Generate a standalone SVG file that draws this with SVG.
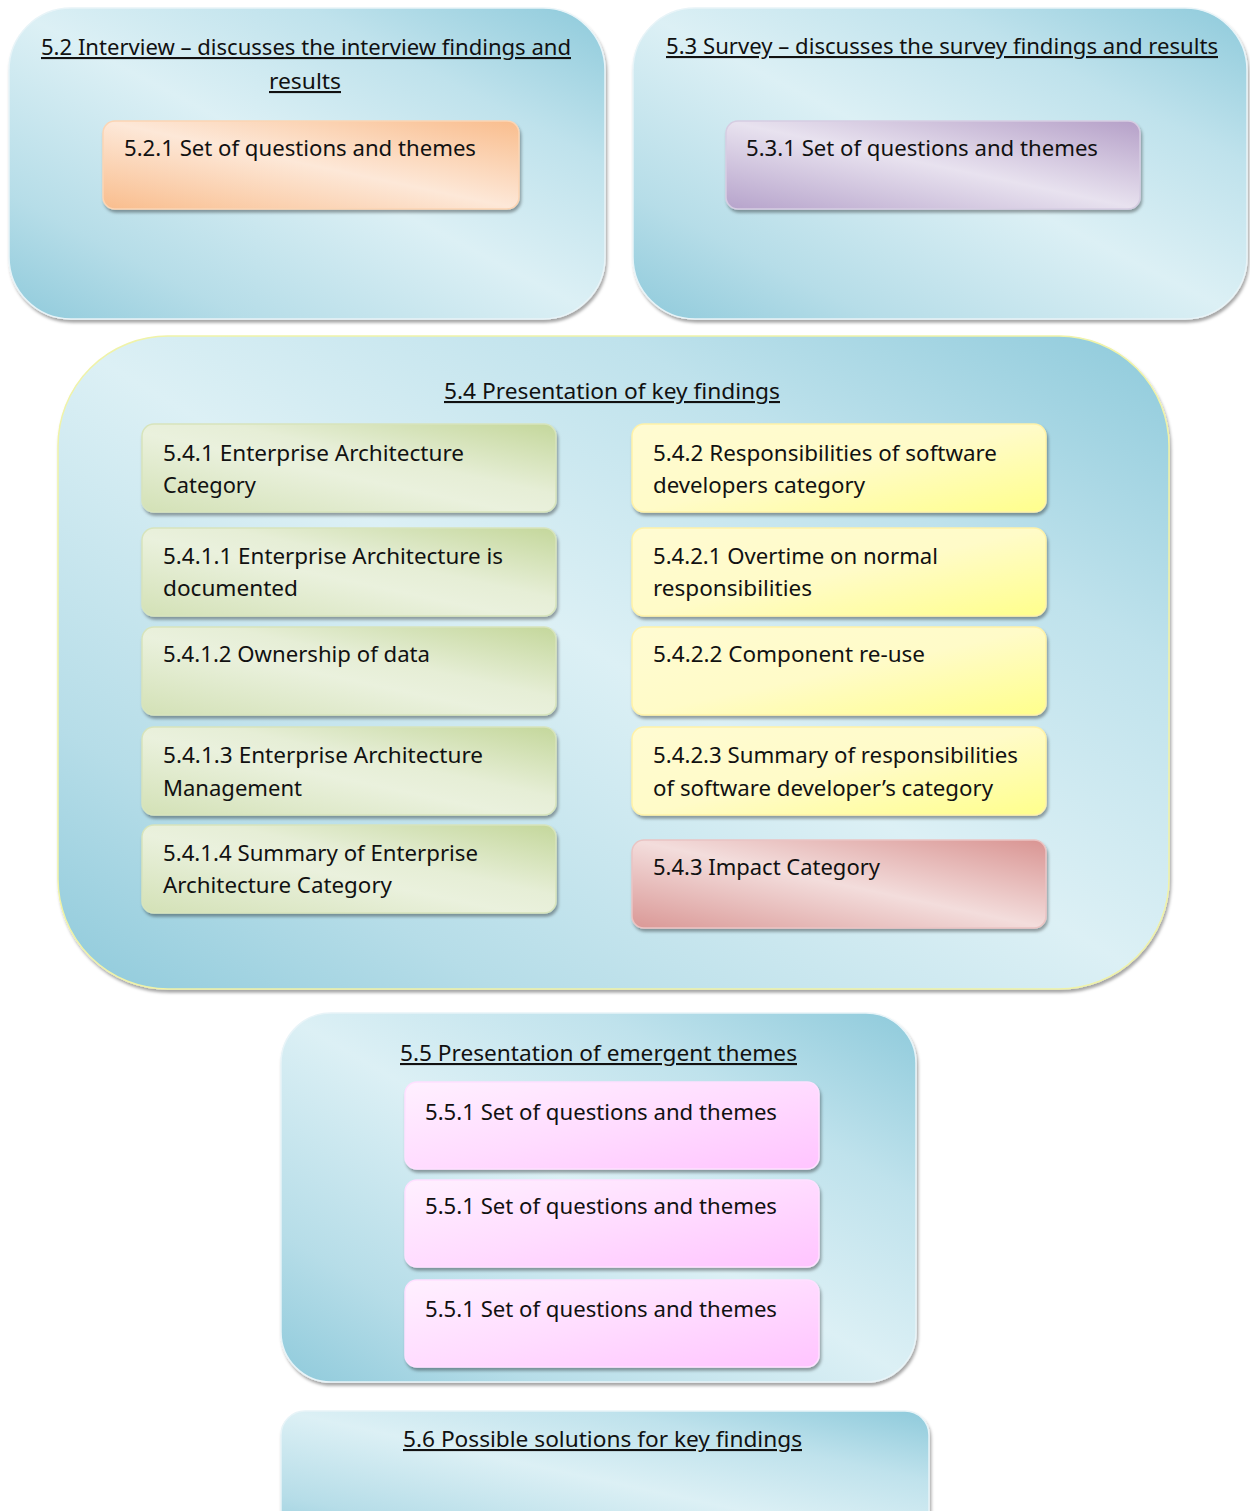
<svg xmlns="http://www.w3.org/2000/svg" width="1250" height="1511" viewBox="0 0 1250 1511">
  <defs>
    <linearGradient id="gBlue" x1="0" y1="1" x2="1" y2="0">
      <stop offset="0" stop-color="#8fcadb"/>
      <stop offset="0.2" stop-color="#b6dde8"/>
      <stop offset="0.5" stop-color="#dcf0f5"/>
      <stop offset="0.75" stop-color="#bfe2ec"/>
      <stop offset="1" stop-color="#8ecadb"/>
    </linearGradient>
    <linearGradient id="gOrange" x1="0" y1="1" x2="1" y2="0">
      <stop offset="0" stop-color="#f9bd8d"/>
      <stop offset="0.5" stop-color="#fde8d8"/>
      <stop offset="1" stop-color="#f9bd8d"/>
    </linearGradient>
    <linearGradient id="gPurple" x1="0" y1="1" x2="1" y2="0">
      <stop offset="0" stop-color="#b6a3cb"/>
      <stop offset="0.5" stop-color="#e8e2ef"/>
      <stop offset="1" stop-color="#b5a0c8"/>
    </linearGradient>
    <linearGradient id="gGreen" x1="0" y1="1" x2="1" y2="0">
      <stop offset="0" stop-color="#d3e1b6"/>
      <stop offset="0.45" stop-color="#eaf1dd"/>
      <stop offset="0.6" stop-color="#e6eed6"/>
      <stop offset="1" stop-color="#c4d79b"/>
    </linearGradient>
    <linearGradient id="gYellow" x1="0" y1="0" x2="1" y2="1">
      <stop offset="0" stop-color="#fffbd2"/>
      <stop offset="0.5" stop-color="#fffbc8"/>
      <stop offset="1" stop-color="#ffff8c"/>
    </linearGradient>
    <linearGradient id="gRed" x1="0" y1="1" x2="1" y2="0">
      <stop offset="0" stop-color="#da9896"/>
      <stop offset="0.5" stop-color="#f3dddc"/>
      <stop offset="1" stop-color="#d99492"/>
    </linearGradient>
    <linearGradient id="gPink" x1="0" y1="0" x2="1" y2="1">
      <stop offset="0" stop-color="#fff0ff"/>
      <stop offset="0.5" stop-color="#ffdcff"/>
      <stop offset="1" stop-color="#ffc4ff"/>
    </linearGradient>
    <filter id="shadow" x="-5%" y="-5%" width="110%" height="115%">
      <feDropShadow dx="1.5" dy="3" stdDeviation="1.5" flood-color="#000" flood-opacity="0.35"/>
    </filter>
  </defs>
  <style>
    text { font-family: "Noto Sans", "Liberation Sans", sans-serif; font-size: 21px; fill: #111; }
    .u { text-decoration: underline; }
    .panel { fill: url(#gBlue); stroke: #e8f4f8; stroke-width: 1.5; filter: url(#shadow); }
    .item { stroke-width: 1.5; filter: url(#shadow); }
    .orange { fill: url(#gOrange); stroke: #fcd5b4; }
    .purple { fill: url(#gPurple); stroke: #d6cde2; }
    .green { fill: url(#gGreen); stroke: #d7e4bc; }
    .yellow { fill: url(#gYellow); stroke: #fff2a8; }
    .red { fill: url(#gRed); stroke: #eac4c3; }
    .pink { fill: url(#gPink); stroke: #ffe0ff; }
  </style>

  <!-- 5.2 Interview -->
  <g id="sec52">
    <rect class="panel" x="9" y="8" width="596" height="311" rx="62"/>
    <text class="u" x="41" y="55" textLength="530" lengthAdjust="spacingAndGlyphs">5.2 Interview – discusses the interview findings and</text>
    <text class="u" x="269" y="89" textLength="72" lengthAdjust="spacingAndGlyphs">results</text>
  </g>
  <g id="sec521">
    <rect class="item orange" x="103" y="121" width="416" height="88" rx="12"/>
    <text x="124" y="156" textLength="352" lengthAdjust="spacingAndGlyphs">5.2.1 Set of questions and themes</text>
  </g>

  <!-- 5.3 Survey -->
  <g id="sec53">
    <rect class="panel" x="633" y="8" width="614" height="311" rx="62"/>
    <text class="u" x="666" y="54" textLength="552" lengthAdjust="spacingAndGlyphs">5.3 Survey – discusses the survey findings and results</text>
  </g>
  <g id="sec531">
    <rect class="item purple" x="726" y="121" width="414" height="88" rx="12"/>
    <text x="746" y="156" textLength="352" lengthAdjust="spacingAndGlyphs">5.3.1 Set of questions and themes</text>
  </g>

  <!-- 5.4 Key findings -->
  <g id="sec54">
    <rect class="panel" x="58" y="336" width="1111" height="653" rx="110" style="stroke:#f0f3a8"/>
    <text class="u" x="444" y="399" textLength="336" lengthAdjust="spacingAndGlyphs">5.4 Presentation of key findings</text>
  </g>

  <g id="sec541">
    <rect class="item green" x="142" y="424" width="414" height="88" rx="12"/>
    <text x="163" y="461" textLength="301" lengthAdjust="spacingAndGlyphs">5.4.1 Enterprise Architecture</text>
    <text x="163" y="493" textLength="93" lengthAdjust="spacingAndGlyphs">Category</text>
  </g>
  <g id="sec5411">
    <rect class="item green" x="142" y="528" width="414" height="88" rx="12"/>
    <text x="163" y="564" textLength="340" lengthAdjust="spacingAndGlyphs">5.4.1.1 Enterprise Architecture is</text>
    <text x="163" y="596" textLength="135" lengthAdjust="spacingAndGlyphs">documented</text>
  </g>
  <g id="sec5412">
    <rect class="item green" x="142" y="627" width="414" height="88" rx="12"/>
    <text x="163" y="662" textLength="267" lengthAdjust="spacingAndGlyphs">5.4.1.2 Ownership of data</text>
  </g>
  <g id="sec5413">
    <rect class="item green" x="142" y="727" width="414" height="88" rx="12"/>
    <text x="163" y="763" textLength="320" lengthAdjust="spacingAndGlyphs">5.4.1.3 Enterprise Architecture</text>
    <text x="163" y="796" textLength="139" lengthAdjust="spacingAndGlyphs">Management</text>
  </g>
  <g id="sec5414">
    <rect class="item green" x="142" y="825" width="414" height="88" rx="12"/>
    <text x="163" y="861" textLength="315" lengthAdjust="spacingAndGlyphs">5.4.1.4 Summary of Enterprise</text>
    <text x="163" y="893" textLength="229" lengthAdjust="spacingAndGlyphs">Architecture Category</text>
  </g>

  <g id="sec542">
    <rect class="item yellow" x="632" y="424" width="414" height="88" rx="12"/>
    <text x="653" y="461" textLength="344" lengthAdjust="spacingAndGlyphs">5.4.2 Responsibilities of software</text>
    <text x="653" y="493" textLength="212" lengthAdjust="spacingAndGlyphs">developers category</text>
  </g>
  <g id="sec5421">
    <rect class="item yellow" x="632" y="528" width="414" height="88" rx="12"/>
    <text x="653" y="564" textLength="285" lengthAdjust="spacingAndGlyphs">5.4.2.1 Overtime on normal</text>
    <text x="653" y="596" textLength="159" lengthAdjust="spacingAndGlyphs">responsibilities</text>
  </g>
  <g id="sec5422">
    <rect class="item yellow" x="632" y="627" width="414" height="88" rx="12"/>
    <text x="653" y="662" textLength="272" lengthAdjust="spacingAndGlyphs">5.4.2.2 Component re-use</text>
  </g>
  <g id="sec5423">
    <rect class="item yellow" x="632" y="727" width="414" height="88" rx="12"/>
    <text x="653" y="763" textLength="365" lengthAdjust="spacingAndGlyphs">5.4.2.3 Summary of responsibilities</text>
    <text x="653" y="796" textLength="340" lengthAdjust="spacingAndGlyphs">of software developer’s category</text>
  </g>
  <g id="sec543">
    <rect class="item red" x="632" y="840" width="414" height="88" rx="12"/>
    <text x="653" y="875" textLength="227" lengthAdjust="spacingAndGlyphs">5.4.3 Impact Category</text>
  </g>

  <!-- 5.5 Emergent themes -->
  <g id="sec55">
    <rect class="panel" x="281" y="1013" width="635" height="369" rx="50"/>
    <text class="u" x="400" y="1061" textLength="397" lengthAdjust="spacingAndGlyphs">5.5 Presentation of emergent themes</text>
  </g>
  <g id="sec551a">
    <rect class="item pink" x="405" y="1082" width="414" height="87" rx="12"/>
    <text x="425" y="1120" textLength="352" lengthAdjust="spacingAndGlyphs">5.5.1 Set of questions and themes</text>
  </g>
  <g id="sec551b">
    <rect class="item pink" x="405" y="1180" width="414" height="87" rx="12"/>
    <text x="425" y="1214" textLength="352" lengthAdjust="spacingAndGlyphs">5.5.1 Set of questions and themes</text>
  </g>
  <g id="sec551c">
    <rect class="item pink" x="405" y="1280" width="414" height="87" rx="12"/>
    <text x="425" y="1317" textLength="352" lengthAdjust="spacingAndGlyphs">5.5.1 Set of questions and themes</text>
  </g>

  <!-- 5.6 Possible solutions -->
  <g id="sec56">
    <rect class="panel" x="281" y="1411" width="648" height="140" rx="24"/>
    <text class="u" x="403" y="1447" textLength="399" lengthAdjust="spacingAndGlyphs">5.6 Possible solutions for key findings</text>
  </g>

  <g id="connectors"/>
</svg>
